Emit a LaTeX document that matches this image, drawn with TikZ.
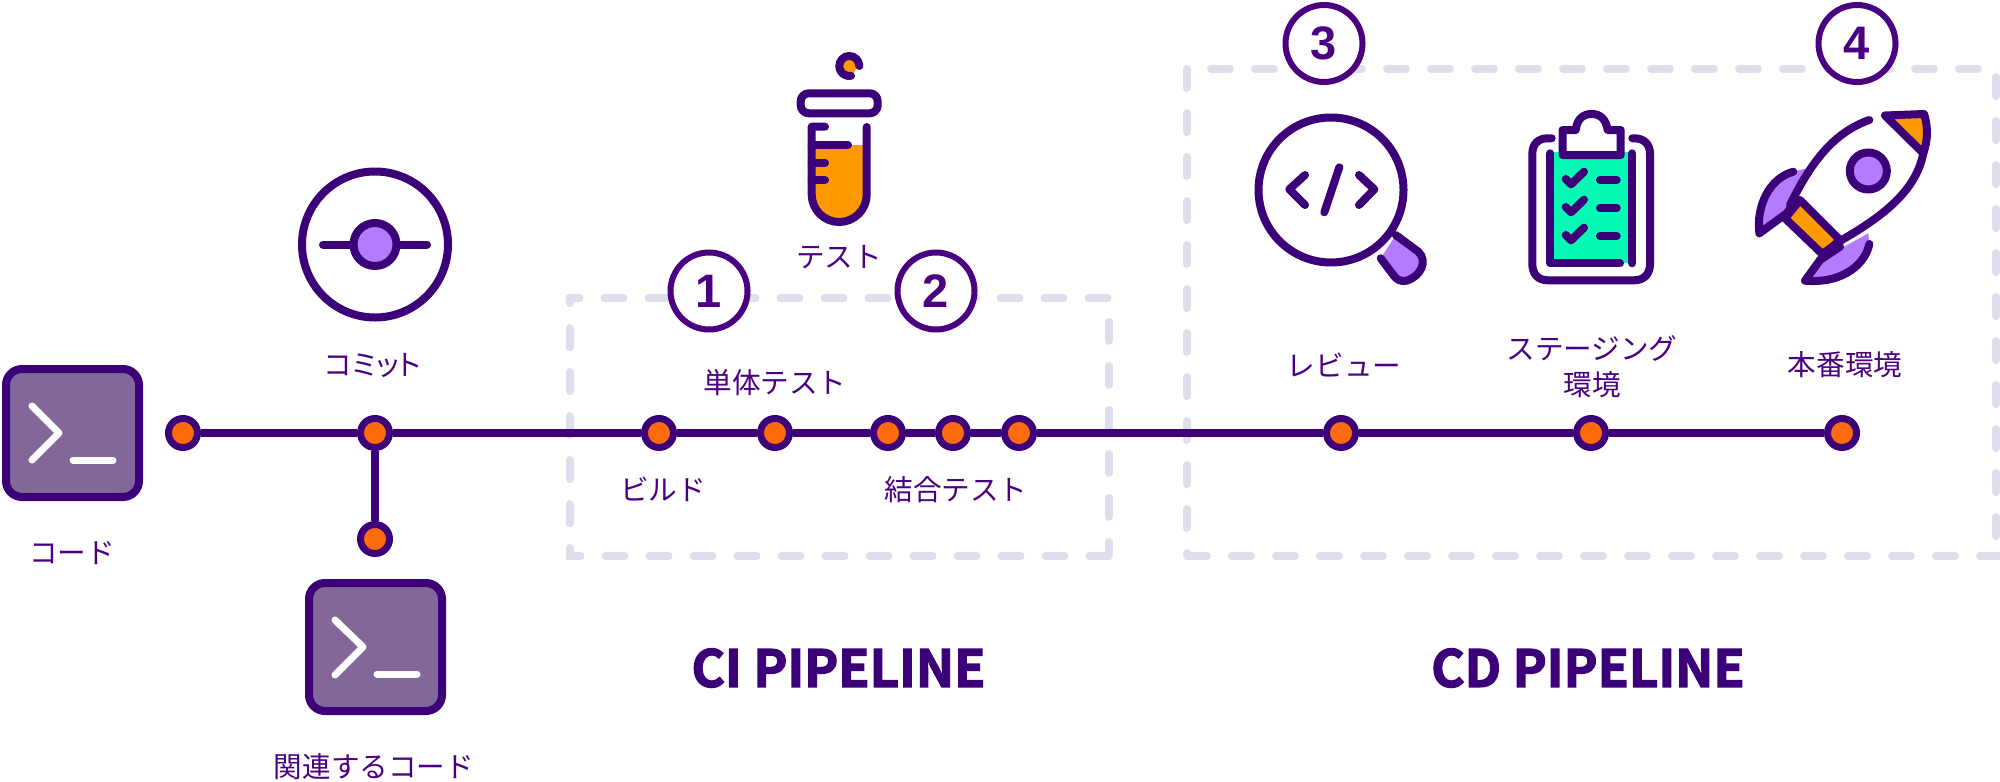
\documentclass[tikz,border=0pt]{standalone}
\usepackage{fontspec}
\setmainfont{Noto Sans CJK JP}
\newfontfamily\headfont[FakeBold=2.6]{Noto Sans CJK JP Bold}
\newfontfamily\numfont{Liberation Sans}
\definecolor{ink}{HTML}{3C0078}
\definecolor{labelink}{HTML}{4B0082}
\definecolor{termfill}{HTML}{836799}
\definecolor{dotfill}{HTML}{FF6A0D}
\definecolor{lilac}{HTML}{B57BFF}
\definecolor{amber}{HTML}{FF9900}
\definecolor{mint}{HTML}{05FBB5}
\definecolor{boxdash}{HTML}{E0DEEC}
\tikzset{
    track/.style={draw=ink, line width=4pt},
    dot/.style={circle, draw=ink, fill=dotfill, line width=3.5pt, minimum size=14.5pt, inner sep=0pt},
    termbox/.style={draw=ink, fill=termfill, line width=4pt, rounded corners=8pt, minimum width=66.5pt, minimum height=64pt, inner sep=0pt},
    promptline/.style={draw=white, line width=3.5pt, line cap=round, line join=round},
    lbl/.style={text=labelink, font=\fontsize{14.3}{18}\selectfont, align=center, inner sep=0pt},
    head/.style={text=ink, font=\headfont\fontsize{25.5}{30}\selectfont, inner sep=0pt},
    numring/.style={circle, draw=labelink, fill=white, line width=3pt, minimum size=38.5pt, inner sep=0pt, text=labelink, font=\numfont\bfseries\fontsize{23.5}{28}\selectfont},
    dashside/.style={draw=boxdash, line width=4pt, line cap=round, dash pattern=on 9.5pt off 12.5pt},
    icon/.style={draw=ink, line width=4pt, line cap=round, line join=round}
}
\begin{document}
\begin{tikzpicture}[x=0.5pt, y=-0.5pt]
    \useasboundingbox (0,0) rectangle (2000,781);

    % dashed box round the CI part
    \draw [dashside, dash phase=4.5pt] (569.5,298) -- (1108.6,298) -- (1108.6,556);
    \draw [dashside] (1108.6,556) -- (569.5,556) -- (569.5,298);
    % dashed box round the CD part
    \draw [dashside] (1186.7,69) -- (1186.7,556);
    \draw [dashside] (1188,556) -- (2000,556);
    \draw [dashside] (1996,77) -- (1996,556);
    \draw [dashside] (1211,68.7) -- (1996,68.7);

    % dots on the line
    \node [dot] (start) at (183,433) {};
    \node [dot] (commit) at (375,433) {};
    \node [dot] (related) at (375,539) {};
    \node [dot] (build) at (659,433) {};
    \node [dot] (unit) at (775,433) {};
    \node [dot] (intA) at (888,433) {};
    \node [dot] (intB) at (953,433) {};
    \node [dot] (intC) at (1019,433) {};
    \node [dot] (review) at (1341,433) {};
    \node [dot] (staging) at (1591,433) {};
    \node [dot] (prod) at (1842,433) {};
    \foreach \from/\to in {start/commit, commit/build, build/unit, unit/intA, intA/intB, intB/intC, intC/review, review/staging, staging/prod, commit/related}
        \draw [track] (\from) -- (\to);

    % terminal boxes
    \node [termbox] (codebox) at (72.5,433) {};
    \node [termbox] (relatedbox) at (375.5,647) {};
    \draw [promptline] (32,406) -- (59,433) -- (32,460);
    \draw [promptline] (73,460) -- (113,460);
    \draw [promptline] (335,620) -- (363,647) -- (335,675);
    \draw [promptline] (377,674) -- (417,674);

    % commit icon
    \draw [icon] (375,244.5) circle (73);
    \draw [icon] (323,244.5) -- (427,244.5);
    \draw [icon, fill=lilac] (375,244.5) circle (21.5);

    % test tube
    \fill [amber] (849.3,67) circle (7);
    \draw [icon] (859.3,66) arc [start angle=0, end angle=-280, radius=10];
    \draw [icon, fill=white, rounded corners=4pt] (800.7,93.3) rectangle (877.7,113.3);
    \fill [amber] (811.7,145) -- (866.7,145) -- (866.7,194.5) arc [start angle=0, end angle=180, radius=27.5] -- cycle;
    \draw [icon] (825,126.7) -- (811.7,126.7) -- (811.7,194.5) arc [start angle=180, end angle=0, radius=27.5] -- (866.7,127);
    \draw [icon] (811.7,145) -- (848,145);
    \draw [icon] (811.7,162.7) -- (825,162.7);
    \draw [icon] (811.7,180) -- (825,180);

    % magnifier
    \draw [icon, fill=lilac] (1395.7,235) -- (1418.3,251.7) .. controls (1428,261) and (1421,276) .. (1406.7,280.7) .. controls (1400,282) and (1396,279) .. (1393.3,275) -- (1380.7,258.3);
    \draw [icon, fill=white] (1331,190) circle (72.5);
    \draw [icon] (1305,175) -- (1289.3,189.3) -- (1305,205);
    \draw [icon] (1339.3,167.3) -- (1324.3,212.3);
    \draw [icon] (1359,175) -- (1374.3,189.3) -- (1359,205);

    % clipboard
    \fill [mint] (1550,152) rectangle (1632,263);
    \draw [icon] (1551.7,138.3) -- (1548,138.3) .. controls (1538,138.3) and (1532.3,144) .. (1532.3,154) -- (1532.3,264) .. controls (1532.3,274) and (1538,280.3) .. (1548,280.3) -- (1634,280.3) .. controls (1644,280.3) and (1650,274) .. (1650,264) -- (1650,154) .. controls (1650,144) and (1644,138.3) .. (1634,138.3) -- (1632.3,138.3);
    \draw [icon] (1550.3,153.3) -- (1550.3,263.3) -- (1620,263.3);
    \draw [icon] (1632.3,153.3) -- (1632.3,263.3);
    \draw [icon, fill=white] (1562.5,155) -- (1562.5,130) -- (1575.7,130) .. controls (1577,120) and (1582,114) .. (1591.7,114) .. controls (1601,114) and (1606,120) .. (1607.7,130) -- (1620.7,130) -- (1620.7,155) -- cycle;
    \foreach \dy in {0,28,56} {
        \draw [icon] (1565.7,179+\dy) -- (1571,184.3+\dy) -- (1584,171.7+\dy);
        \draw [icon] (1600,180+\dy) -- (1616.7,180+\dy);
    }

    % rocket
    \fill [lilac] (1793.3,171.7) .. controls (1770,178) and (1756,205) .. (1759.3,233.3) -- (1786.7,213.3) -- (1808,168) -- cycle;
    \draw [icon] (1793.3,171.7) .. controls (1770,178) and (1756,205) .. (1759.3,233.3) -- (1786.7,213.3) -- (1800,195);
    \fill [lilac] (1869.3,244) .. controls (1866,262) and (1845,284) .. (1805,280.7) -- (1820,260) -- (1868.3,233.3) -- cycle;
    \draw [icon] (1869.3,244) .. controls (1866,262) and (1845,284) .. (1805,280.7) -- (1820,260) -- (1840,246.7);
    \fill [white] (1790,205) .. controls (1812,160) and (1835,132) .. (1869.3,120) -- (1883.3,115) -- (1923.3,153.3) .. controls (1916,190) and (1885,215) .. (1841.7,240) -- cycle;
    \draw [icon, fill=amber] (1800,200) -- (1840,240) -- (1823.3,255) -- (1785,218.3) -- cycle;
    \draw [icon] (1869.3,120) .. controls (1835,132) and (1812,160) .. (1790,205);
    \draw [icon] (1923.3,153.3) .. controls (1916,190) and (1885,215) .. (1841.7,240) -- (1823.3,253.3);
    \draw [icon, fill=amber] (1885,115.5) -- (1924,114) .. controls (1929,130) and (1927,142) .. (1923.3,153.3) -- cycle;
    \draw [icon, fill=lilac] (1868.3,171) circle (18.5);

    % labels
    \node [lbl] (codelbl) at (72,553) {コード};
    \node [lbl] (relatedlbl) at (374,767) {関連するコード};
    \node [lbl] (commitlbl) at (373,365) {\addfontfeature{RawFeature=+palt}コミット};
    \node [lbl] (testlbl) at (839,257) {テスト};
    \node [lbl] (unitlbl) at (775,383) {単体テスト};
    \node [lbl] (buildlbl) at (663,489) {ビルド};
    \node [lbl] (intlbl) at (956,490) {結合テスト};
    \node [lbl] (reviewlbl) at (1344,365) {レビュー};
    \node [lbl] (staginglbl) at (1592,367) {ステージング\\環境};
    \node [lbl] (prodlbl) at (1845,365) {本番環境};

    % titles
    \node [head] (cititle) at (838.5,668) {CI PIPELINE};
    \node [head] (cdtitle) at (1588,668) {CD PIPELINE};

    % numbers
    \node [numring] (numA) at (709,291) {1};
    \node [numring] (numB) at (936,291) {2};
    \node [numring] (numC) at (1324,43.5) {3};
    \node [numring] (numD) at (1857,43.5) {4};
\end{tikzpicture}
\end{document}
